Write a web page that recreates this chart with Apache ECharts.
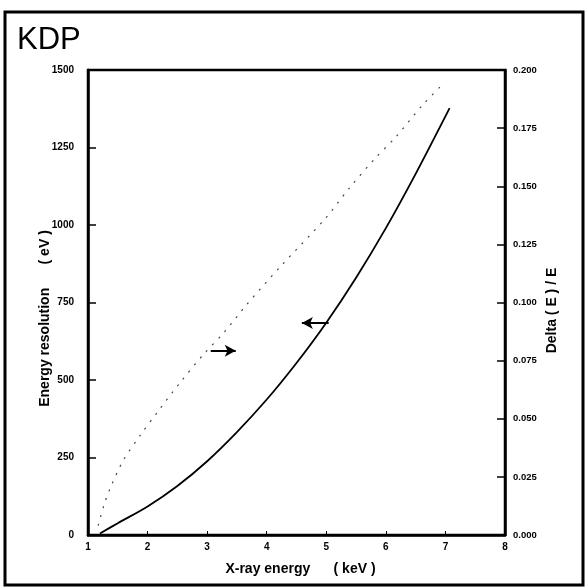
<!DOCTYPE html>
<html>
<head>
<meta charset="utf-8">
<script src="https://cdn.jsdelivr.net/npm/echarts@6/dist/echarts.min.js"></script>
<style>html,body{margin:0;padding:0;background:#fff;}#c{width:587px;height:588px;}</style>
</head>
<body>
<div id="c"></div>
<script>
var titleText = 'KDP';
var xTicks = [1, 2, 3, 4, 5, 6, 7, 8];
var leftTicks = [0, 250, 500, 750, 1000, 1250, 1500];
var rightTicks = [0.000, 0.025, 0.050, 0.075, 0.100, 0.125, 0.150, 0.175, 0.200];

// Energy resolution (eV), left axis
var resEnergy = [1.2, 1.5, 2.0, 2.5, 3.0, 3.5, 4.0, 4.5, 5.0, 5.5, 6.0, 6.5, 7.07];
var resValue  = [5, 38, 92, 158, 238, 332, 437, 555, 685, 830, 990, 1165, 1377];

// Delta(E)/E, right axis
var ratioEnergy = [1.17, 1.27, 1.37, 1.59, 1.88, 2.17, 2.56, 2.95, 3.28, 3.66, 4.25, 4.98, 5.38, 5.82, 6.16, 6.62, 6.96];
var ratioValue  = [0.004, 0.013, 0.020, 0.032, 0.043, 0.053, 0.066, 0.078, 0.087, 0.099, 0.116, 0.136, 0.149, 0.162, 0.171, 0.185, 0.194];

// arrows (annotation, data coordinates on the eV axis)
var arrowRight = [[3.06, 594], [3.48, 594]];
var arrowLeft  = [[5.04, 684], [4.59, 684]];

var font = '"Liberation Sans", Arial, sans-serif';
var chart = echarts.init(document.getElementById('c'), null, {renderer: 'canvas'});
function zip(a, b) { return a.map(function (v, i) { return [v, b[i]]; }); }

chart.setOption({
  animation: false,
  backgroundColor: '#fff',
  title: {
    text: titleText, left: 12, top: 20,
    textStyle: {fontFamily: font, fontSize: 31, fontWeight: 'normal', color: '#000'}
  },
  graphic: [{
    type: 'rect', shape: {x: 5, y: 12, width: 578, height: 573},
    style: {fill: 'none', stroke: '#000', lineWidth: 3}, silent: true
  }],
  grid: {left: 88, right: 82, top: 70, bottom: 53, show: true, borderColor: '#000', borderWidth: 2.5, backgroundColor: 'transparent'},
  xAxis: {
    type: 'value', min: xTicks[0], max: xTicks[xTicks.length - 1], interval: 1,
    name: 'X-ray energy      ( keV )', nameLocation: 'middle', nameGap: 27, nameMoveOverlap: false,
    nameTextStyle: {fontFamily: font, fontSize: 14, fontWeight: 'bold', color: '#000', padding: [0, 0, 0, 8]},
    axisLine: {show: true, lineStyle: {color: '#000', width: 2.5}},
    axisTick: {show: true, inside: true, length: 4, lineStyle: {color: '#000', width: 1}},
    axisLabel: {fontFamily: font, fontSize: 10, fontWeight: 'bold', color: '#000', margin: 7,
      formatter: function (v) { return xTicks.indexOf(v) >= 0 ? String(v) : ''; }},
    splitLine: {show: false}
  },
  yAxis: [{
    type: 'value', position: 'left', min: leftTicks[0], max: leftTicks[leftTicks.length - 1], interval: 250,
    name: 'Energy resolution      ( eV )', nameLocation: 'middle', nameGap: 36, nameRotate: 90, nameMoveOverlap: false,
    nameTextStyle: {fontFamily: font, fontSize: 14, fontWeight: 'bold', color: '#000', padding: [0, 32, 0, 0]},
    axisLine: {show: true, lineStyle: {color: '#000', width: 2.5}},
    axisTick: {show: true, inside: true, length: 8, lineStyle: {color: '#000', width: 1.5}},
    axisLabel: {fontFamily: font, fontSize: 10, fontWeight: 'bold', color: '#000', margin: 14,
      formatter: function (v) { return String(v); }},
    splitLine: {show: false}
  }, {
    type: 'value', position: 'right', min: rightTicks[0], max: rightTicks[rightTicks.length - 1], interval: 0.025,
    name: 'Delta ( E ) / E', nameLocation: 'middle', nameGap: 40, nameRotate: 90, nameMoveOverlap: false,
    nameTextStyle: {fontFamily: font, fontSize: 14, fontWeight: 'bold', color: '#000', padding: [0, 16, 0, 0]},
    axisLine: {show: true, lineStyle: {color: '#000', width: 2.5}},
    axisTick: {show: true, inside: true, length: 8, lineStyle: {color: '#000', width: 1.5}},
    axisLabel: {fontFamily: font, fontSize: 9.5, fontWeight: 'bold', color: '#000', margin: 8,
      formatter: function (v) { return v.toFixed(3); }},
    splitLine: {show: false}
  }],
  series: [{
    type: 'line', yAxisIndex: 0, data: zip(resEnergy, resValue), smooth: 0.3,
    showSymbol: false, lineStyle: {color: '#000', width: 1.8},
    markLine: {
      silent: true, symbol: ['none', 'arrow'], symbolSize: [9, 11],
      label: {show: false},
      lineStyle: {color: '#000', width: 2, type: 'solid'},
      data: [
        [{coord: arrowRight[0]}, {coord: arrowRight[1]}],
        [{coord: arrowLeft[0]}, {coord: arrowLeft[1]}]
      ]
    }
  }, {
    type: 'line', yAxisIndex: 1, data: zip(ratioEnergy, ratioValue), smooth: 0.3,
    showSymbol: false, lineStyle: {color: '#444', width: 1.2, type: [2, 7]}
  }]
});
</script>
</body>
</html>
